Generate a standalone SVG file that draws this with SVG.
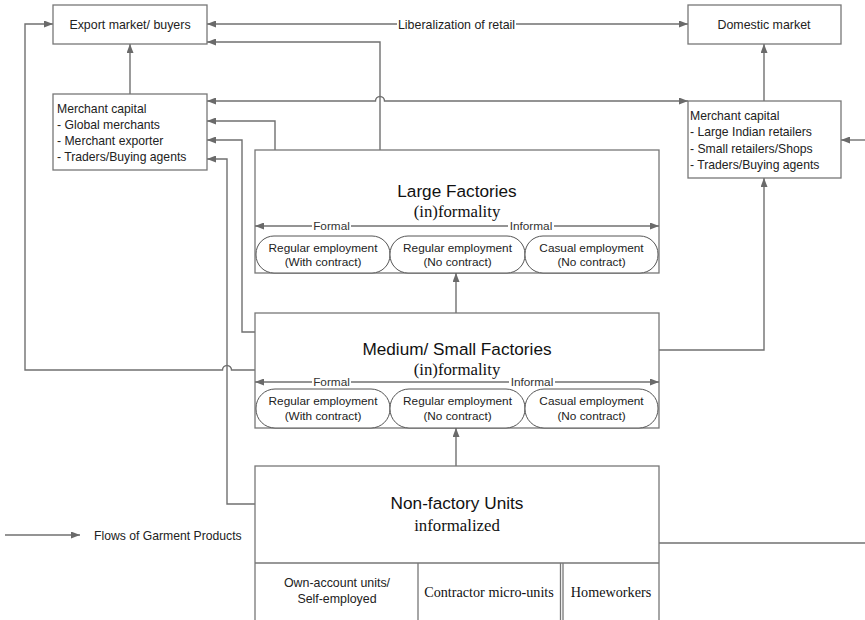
<svg xmlns="http://www.w3.org/2000/svg" width="865" height="620" viewBox="0 0 865 620">
<style>
.box{fill:#fff;stroke:#777;stroke-width:1.3}
.pill{fill:#fff;stroke:#555;stroke-width:1}
.sub{fill:none;stroke:#777;stroke-width:1.3}
.ln{fill:none;stroke:#707070;stroke-width:1.4}
.t{font-family:"Liberation Sans",Arial,sans-serif;font-size:12.2px;fill:#222}
.tm{font-family:"Liberation Sans",Arial,sans-serif;font-size:12.4px;fill:#222;text-anchor:middle}
.tp{font-family:"Liberation Sans",Arial,sans-serif;font-size:11.8px;fill:#222;text-anchor:middle}
.title{font-family:"Liberation Sans",Arial,sans-serif;font-size:17.2px;fill:#111;text-anchor:middle}
.ser{font-family:"Liberation Serif","Times New Roman",serif;font-size:16.8px;fill:#111;text-anchor:middle}
.ser2{font-family:"Liberation Serif","Times New Roman",serif;font-size:14.2px;fill:#111;text-anchor:middle}
.lbl{font-family:"Liberation Sans",Arial,sans-serif;font-size:11.8px;fill:#333;text-anchor:middle}
.bg{fill:#fff}
</style>
<defs>
<marker id="ar" viewBox="0 0 9 7" refX="9" refY="3.5" markerWidth="9" markerHeight="7" markerUnits="userSpaceOnUse" orient="auto-start-reverse">
<path d="M0,0 L9,3.5 L0,7 z" fill="#6a6a6a"/>
</marker>
</defs>

<g id="connectors">
<path class="ln" d="M207,24 H688" marker-start="url(#ar)" marker-end="url(#ar)"/>
<rect class="bg" x="397" y="16" width="119" height="16"/>
<text class="tm" x="456.5" y="28.5" font-size="12.3">Liberalization of retail</text>
<path class="ln" d="M130,94 V44" marker-end="url(#ar)"/>
<path class="ln" d="M380,150 V42 H207" marker-end="url(#ar)"/>
<path class="ln" d="M207,101 H375.5 A4.5,4.5 0 0 1 384.5,101 H688" marker-start="url(#ar)" marker-end="url(#ar)"/>
<path class="ln" d="M275,150 V121 H207" marker-end="url(#ar)"/>
<path class="ln" d="M255,332 H242 V140 H207" marker-end="url(#ar)"/>
<path class="ln" d="M255,504 H227 V159 H207" marker-end="url(#ar)"/>
<path class="ln" d="M255,370 H231.5 A4.5,4.5 0 0 0 222.5,370 H25 V24 H53" marker-end="url(#ar)"/>
<path class="ln" d="M659,350 H764 V178" marker-end="url(#ar)"/>
<path class="ln" d="M764,101 V44" marker-end="url(#ar)"/>
<path class="ln" d="M865,140 H841" marker-end="url(#ar)"/>
<path class="ln" d="M659,543 H865"/>
<path class="ln" d="M456,313 V273" marker-end="url(#ar)"/>
<path class="ln" d="M456,466 V428" marker-end="url(#ar)"/>
<path class="ln" d="M5,535 H80" marker-end="url(#ar)"/>
<text class="t" x="94" y="539.5" font-size="12.6">Flows of Garment Products</text>
</g>

<g id="export-market">
<rect class="box" x="53" y="5" width="154" height="39"/>
<text class="tm" x="130" y="28.5">Export market/ buyers</text>
</g>

<g id="domestic-market">
<rect class="box" x="688" y="5" width="153" height="39"/>
<text class="tm" x="764" y="28.5">Domestic market</text>
</g>

<g id="merchant-capital-export">
<rect class="box" x="53" y="94" width="154" height="76"/>
<text class="t" x="57" y="112.5">Merchant capital</text>
<text class="t" x="57" y="128.5">- Global merchants</text>
<text class="t" x="57" y="144.5">- Merchant exporter</text>
<text class="t" x="57" y="160.5">- Traders/Buying agents</text>
</g>

<g id="merchant-capital-domestic">
<rect class="box" x="688" y="101" width="153" height="77"/>
<text class="t" x="690" y="119.5">Merchant capital</text>
<text class="t" x="690" y="136">- Large Indian retailers</text>
<text class="t" x="690" y="152.5">- Small retailers/Shops</text>
<text class="t" x="690" y="169">- Traders/Buying agents</text>
</g>

<g id="large-factories">
<rect class="box" x="255" y="150" width="404" height="123"/>
<text class="title" x="457" y="197">Large Factories</text>
<text class="ser" x="457" y="217">(in)formality</text>
<path class="ln" d="M255,226 H659" marker-start="url(#ar)" marker-end="url(#ar)"/>
<rect class="bg" x="312" y="219" width="39" height="14"/>
<rect class="bg" x="508" y="219" width="46" height="14"/>
<text class="lbl" x="331.5" y="230">Formal</text>
<text class="lbl" x="531" y="230">Informal</text>
<rect class="pill" x="256" y="236" width="134" height="37" rx="18" ry="18"/>
<rect class="pill" x="390" y="236" width="135" height="37" rx="18" ry="18"/>
<rect class="pill" x="525" y="236" width="133" height="37" rx="18" ry="18"/>
<text class="tp" x="323" y="251.5">Regular employment</text>
<text class="tp" x="323" y="266">(With contract)</text>
<text class="tp" x="457.5" y="251.5">Regular employment</text>
<text class="tp" x="457.5" y="266">(No contract)</text>
<text class="tp" x="591.5" y="251.5">Casual employment</text>
<text class="tp" x="591.5" y="266">(No contract)</text>
</g>

<g id="medium-small-factories">
<rect class="box" x="255" y="313" width="404" height="115"/>
<text class="title" x="457" y="355">Medium/ Small Factories</text>
<text class="ser" x="457" y="374.5">(in)formality</text>
<path class="ln" d="M255,382 H659" marker-start="url(#ar)" marker-end="url(#ar)"/>
<rect class="bg" x="312" y="375" width="39" height="13"/>
<rect class="bg" x="509" y="375" width="46" height="13"/>
<text class="lbl" x="331.5" y="386">Formal</text>
<text class="lbl" x="532" y="386">Informal</text>
<rect class="pill" x="256" y="389" width="134" height="39" rx="19" ry="19"/>
<rect class="pill" x="390" y="389" width="135" height="39" rx="19" ry="19"/>
<rect class="pill" x="525" y="389" width="133" height="39" rx="19" ry="19"/>
<text class="tp" x="323" y="405">Regular employment</text>
<text class="tp" x="323" y="420">(With contract)</text>
<text class="tp" x="457.5" y="405">Regular employment</text>
<text class="tp" x="457.5" y="420">(No contract)</text>
<text class="tp" x="591.5" y="405">Casual employment</text>
<text class="tp" x="591.5" y="420">(No contract)</text>
</g>

<g id="non-factory-units">
<rect class="box" x="255" y="466" width="404" height="164"/>
<text class="title" x="457" y="509">Non-factory Units</text>
<text class="ser" x="457" y="531">informalized</text>
<path class="sub" d="M255,563 H659 M418,563 V620 M560.5,563 V620 M563,563 V620"/>
<text class="tm" x="337" y="587" font-size="12.6">Own-account units/</text>
<text class="tm" x="337" y="603" font-size="12.6">Self-employed</text>
<text class="ser2" x="489" y="597">Contractor micro-units</text>
<text class="ser2" x="611" y="597" font-size="14.5">Homeworkers</text>
</g>
</svg>
